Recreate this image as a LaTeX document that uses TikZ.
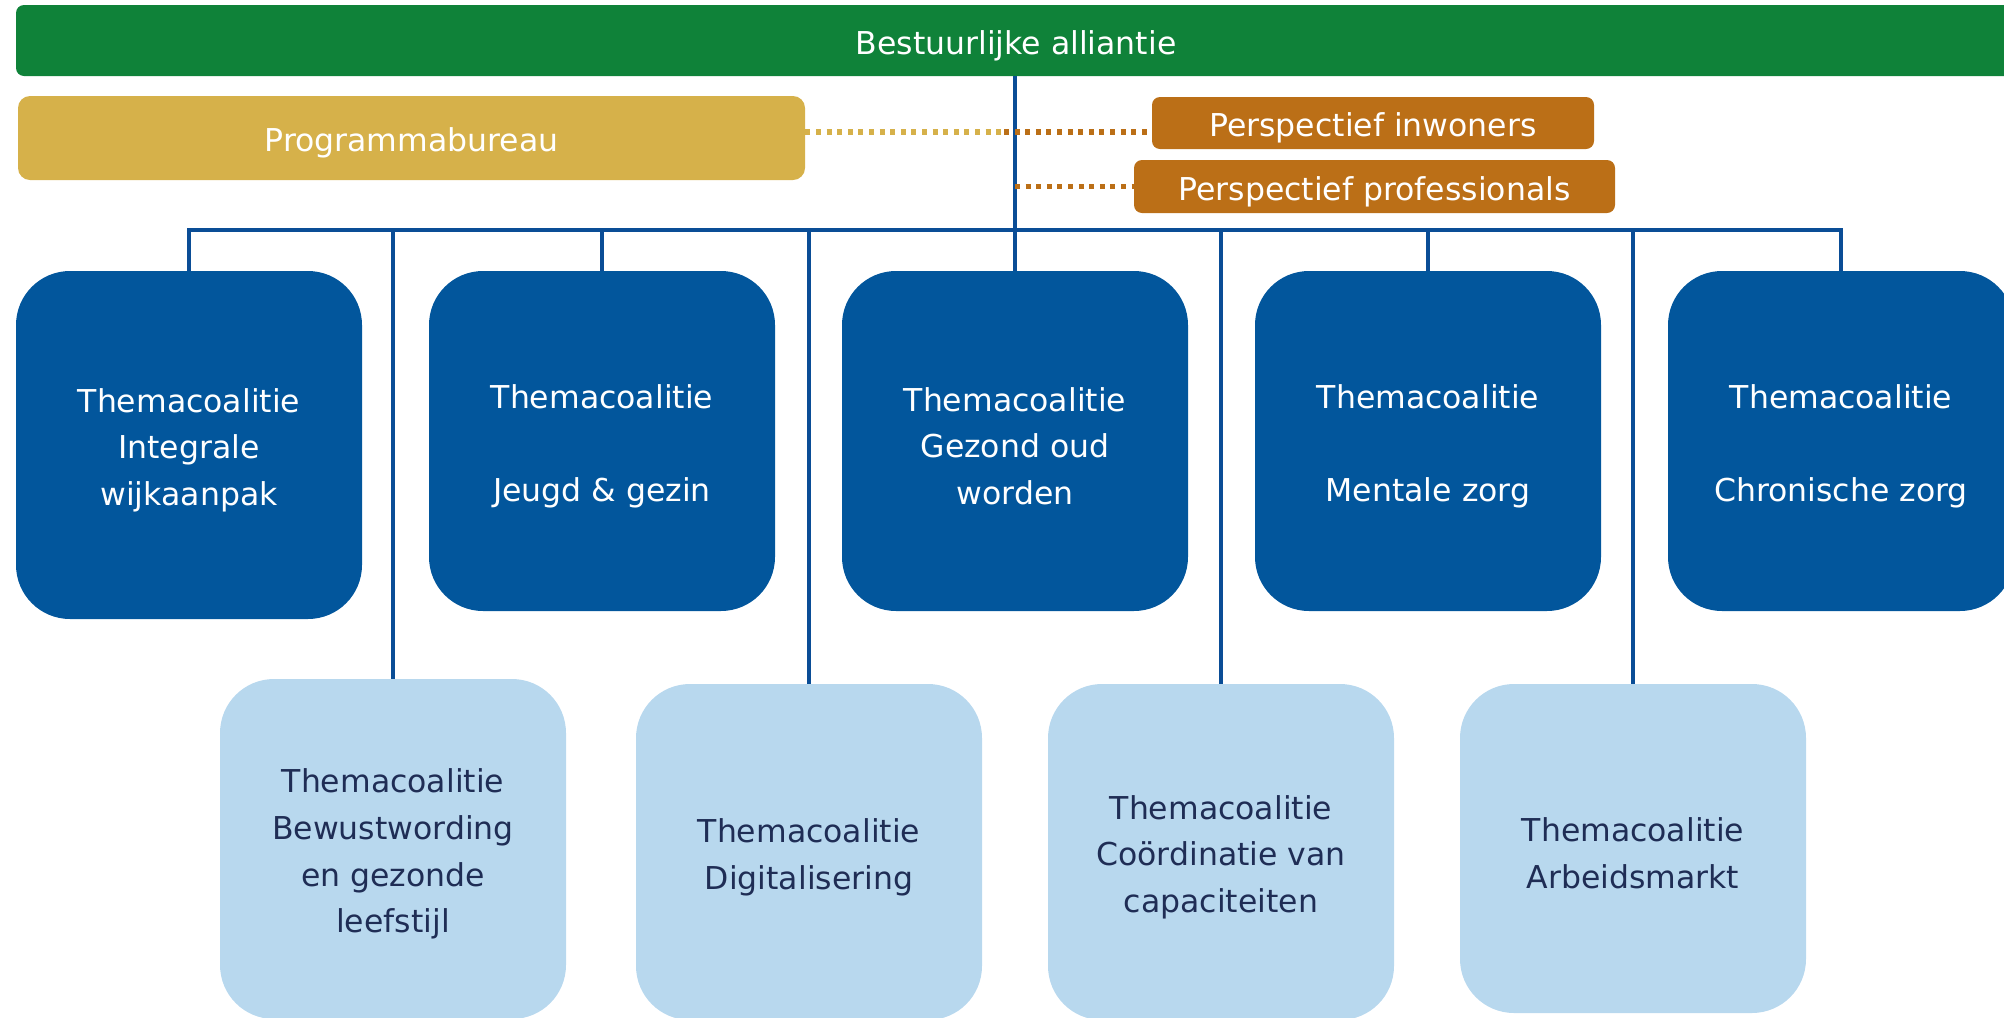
\documentclass[tikz,border=0pt]{standalone}
\usepackage{fontspec}
\setmainfont{DejaVu Sans}
\usepackage{tikz}
\usetikzlibrary{positioning, calc}

\definecolor{alliantiegreen}{HTML}{0F8239}
\definecolor{bureaugold}{HTML}{D6B14A}
\definecolor{perspectorange}{HTML}{BB6F17}
\definecolor{themadark}{HTML}{02569C}
\definecolor{themalight}{HTML}{B8D8EE}
\definecolor{themanavy}{HTML}{1F2D55}
\definecolor{linkblue}{HTML}{0A4D96}

\newcommand{\lowerstrut}{\rule{0pt}{17pt}}

\tikzstyle{label} = [font=\fontsize{15.75pt}{23.3pt}\selectfont, align=center, inner sep=0pt]
\tikzstyle{bar} = [label, rectangle, rounded corners=4pt, fill=alliantiegreen, text=white]
\tikzstyle{bureau} = [label, rectangle, rounded corners=6pt, fill=bureaugold, text=white]
\tikzstyle{perspect} = [label, rectangle, rounded corners=4pt, fill=perspectorange, text=white]
\tikzstyle{themamain} = [label, rectangle, rounded corners=27pt, minimum width=173pt, minimum height=170pt, fill=themadark, text=white]
\tikzstyle{themaside} = [label, rectangle, rounded corners=27pt, minimum width=173pt, minimum height=168pt, fill=themalight, text=themanavy]
\tikzstyle{link} = [line width=2.4pt, draw=linkblue]
\tikzstyle{dotline} = [line width=2.7pt, dash pattern=on 2.5pt off 2.8pt]

\begin{document}
\begin{tikzpicture}[x=0.5pt, y=-0.5pt]
    \useasboundingbox (0,0) rectangle (2004,1018);

    % top level
    \node (alliantie) [bar, minimum width=1000pt, minimum height=35.5pt] at (1016,40.5) {\lowerstrut Bestuurlijke alliantie};
    \node (bureau) [bureau, minimum width=393.5pt, minimum height=42pt] at (411.5,138) {\lowerstrut Programmabureau};
    \node (inwoners) [perspect, minimum width=221pt, minimum height=26pt] at (1373,123) {\lowerstrut Perspectief inwoners};
    \node (professionals) [perspect, minimum width=240.5pt, minimum height=26.5pt] at (1374.5,186.5) {\lowerstrut Perspectief professionals};

    % themacoalities, first row
    \node (wijk) [themamain, minimum height=174pt] at (189,445) {\lowerstrut Themacoalitie\\Integrale\\wijkaanpak};
    \node (jeugd) [themamain] at (602,441) {\lowerstrut Themacoalitie\\ \\Jeugd \& gezin};
    \node (oud) [themamain] at (1015,441) {\lowerstrut Themacoalitie\\Gezond oud\\worden};
    \node (mentaal) [themamain] at (1428,441) {\lowerstrut Themacoalitie\\ \\Mentale zorg};
    \node (chronisch) [themamain] at (1841,441) {\lowerstrut Themacoalitie\\ \\Chronische zorg};

    % themacoalities, second row
    \node (leefstijl) [themaside, minimum height=170pt] at (393,849) {\lowerstrut Themacoalitie\\Bewustwording\\en gezonde\\leefstijl};
    \node (digitaal) [themaside] at (809,852) {\lowerstrut Themacoalitie\\Digitalisering};
    \node (capaciteit) [themaside] at (1221,852) {\lowerstrut Themacoalitie\\Coördinatie van\\capaciteiten};
    \node (arbeid) [themaside, minimum height=164.5pt] at (1633,848.5) {\lowerstrut Themacoalitie\\Arbeidsmarkt};

    % connectors
    \coordinate (bus) at (1016,230);
    \coordinate (dotA) at (1016,132);
    \draw [link] (alliantie.south -| oud.north) -- (oud.north);
    \draw [link] (wijk.north) -- (wijk.north |- bus) -- (chronisch.north |- bus) -- (chronisch.north);
    \foreach \thema in {jeugd, mentaal, leefstijl, digitaal, capaciteit, arbeid}
        \draw [link] (\thema.north |- bus) -- (\thema.north);

    \draw [dotline, draw=bureaugold] (bureau.east |- dotA) -- ($(dotA)+(-12,0)$);
    \draw [dotline, draw=perspectorange] ($(dotA)+(-12,0)$) -- (inwoners.west |- dotA);
    \draw [dotline, draw=perspectorange] (professionals.west -| oud.north) -- (professionals.west);
\end{tikzpicture}
\end{document}
